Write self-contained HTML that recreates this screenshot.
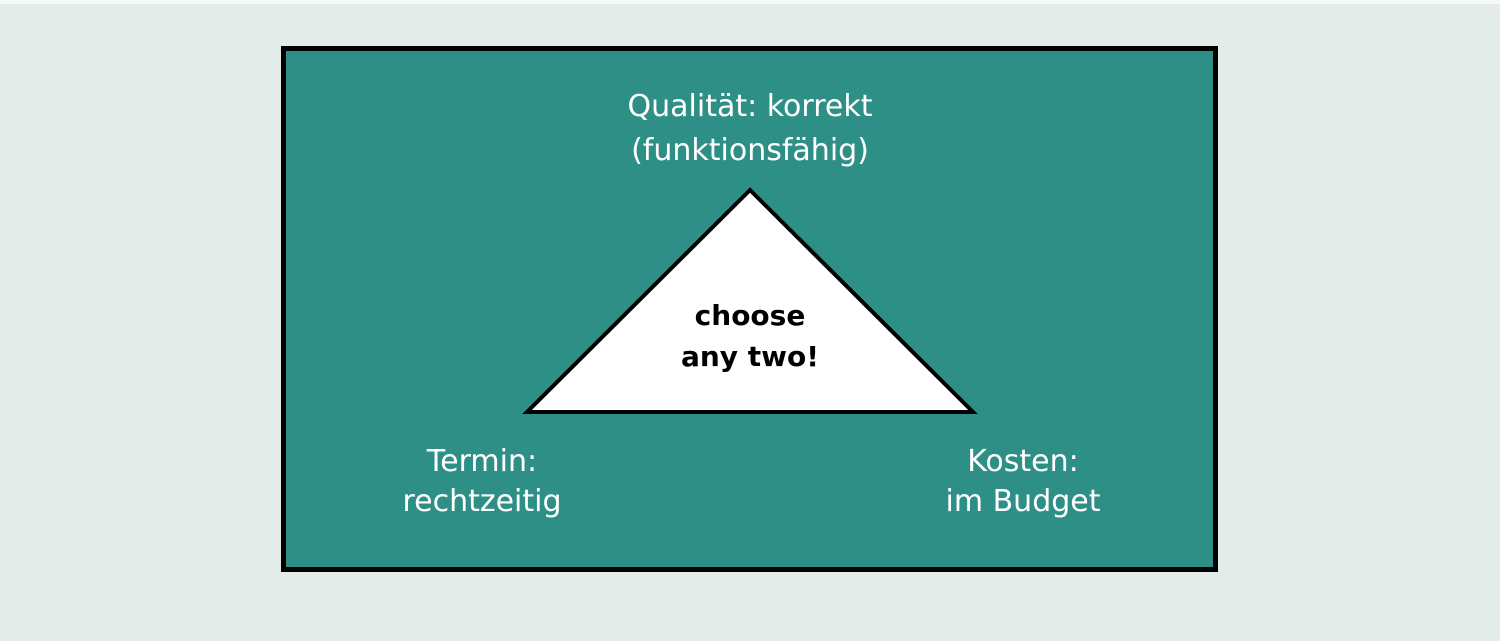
<!DOCTYPE html>
<html><head><meta charset="utf-8"><style>
html,body{margin:0;padding:0;width:1500px;height:641px;overflow:hidden;background:#e4ecea;}
svg{display:block}
text{font-family:"DejaVu Sans","Liberation Sans",sans-serif;}
</style></head><body>
<svg width="1500" height="641" viewBox="0 0 1500 641">
<rect x="0" y="0" width="1500" height="4" fill="#f7f9f9"/>
<rect x="283.5" y="48.5" width="932" height="521" fill="#2e8f87" stroke="#000" stroke-width="5"/>
<polygon points="750,190 527,412 973,412" fill="#fff" stroke="#000" stroke-width="4" stroke-linejoin="miter"/>
<g fill="#fff" font-size="30" text-anchor="middle">
<text x="750" y="116">Qualität: korrekt</text>
<text x="750" y="160">(funktionsfähig)</text>
<text x="482" y="471">Termin:</text>
<text x="482" y="511">rechtzeitig</text>
<text x="1023" y="471">Kosten:</text>
<text x="1023" y="511">im Budget</text>
</g>
<g fill="#000" font-size="28" font-weight="bold" text-anchor="middle">
<text x="750" y="325">choose</text>
<text x="750" y="366">any two!</text>
</g>
</svg>
</body></html>
